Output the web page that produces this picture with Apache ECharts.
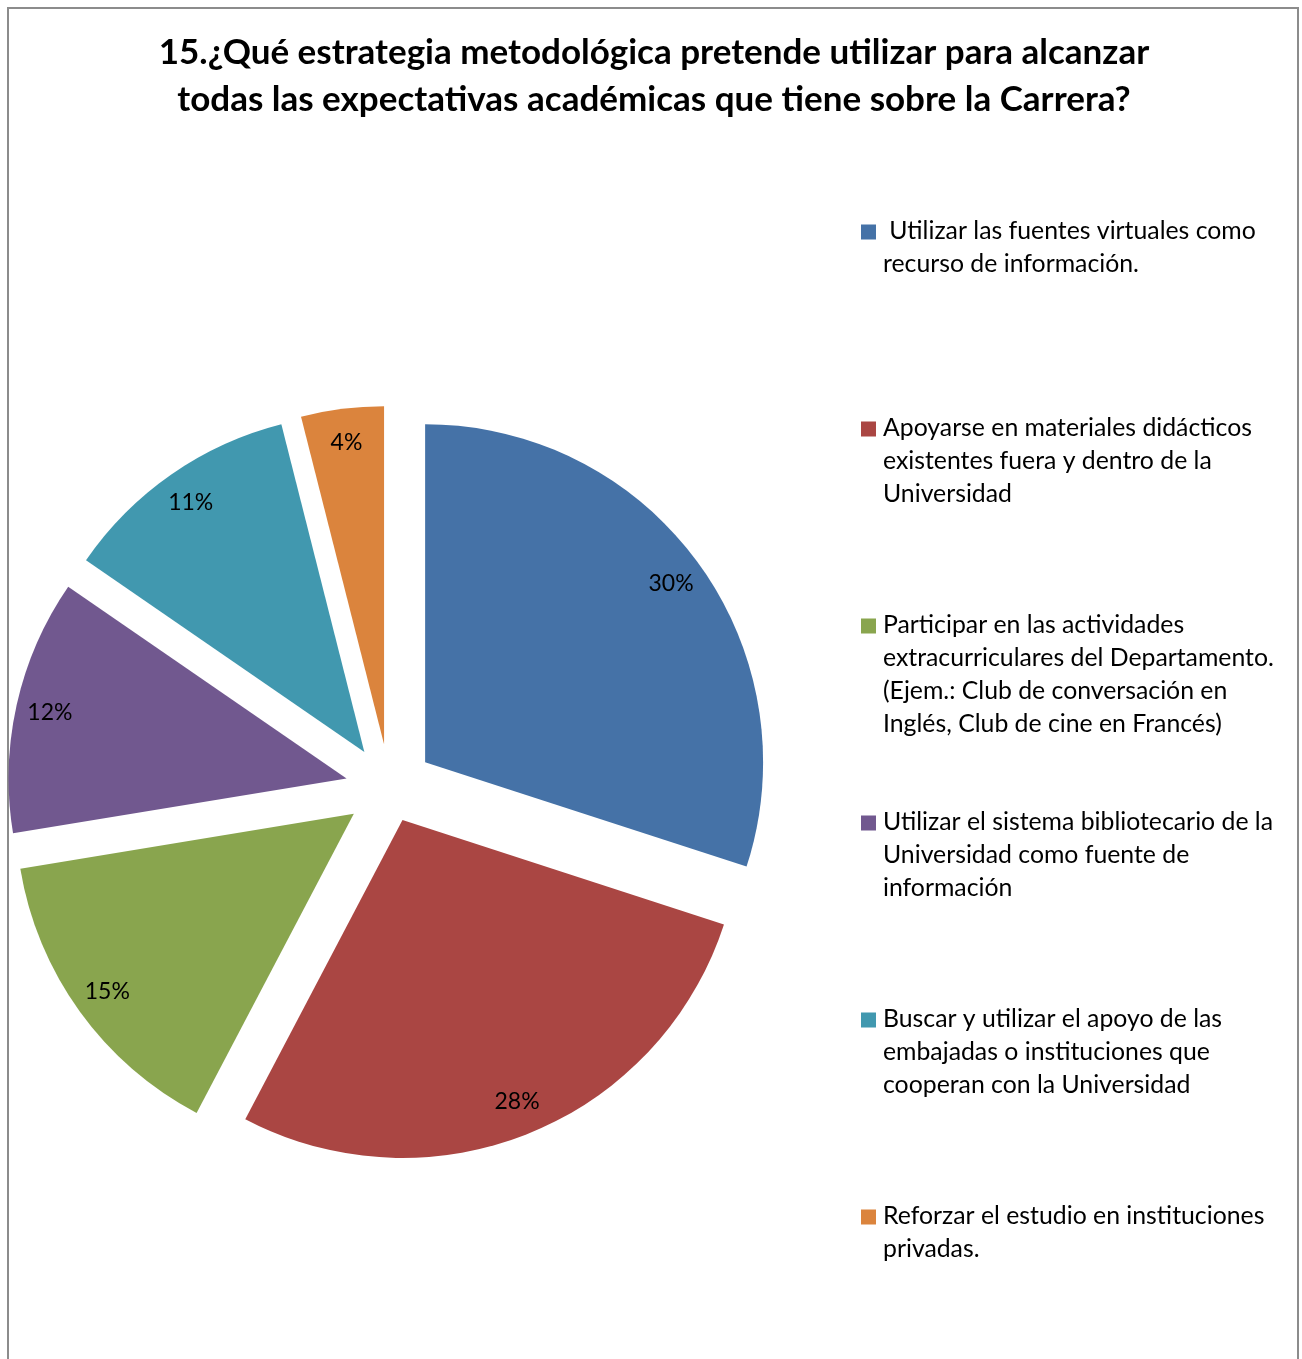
<!DOCTYPE html>
<html>
<head>
<meta charset="utf-8">
<script src="https://cdn.jsdelivr.net/npm/echarts@6/dist/echarts.min.js"></script>
<style>
html,body{margin:0;padding:0;background:#fff;}
#chart{width:1302px;height:1359px;}
</style>
</head>
<body>
<div id="chart"></div>
<script>
var titleText = '15.¿Qué estrategia metodológica pretende utilizar para alcanzar\ntodas las expectativas académicas que tiene sobre la Carrera?';
var categories = [
  ' Utilizar las fuentes virtuales como\nrecurso de información.',
  'Apoyarse en materiales didácticos\nexistentes fuera y dentro de la\nUniversidad',
  'Participar en las actividades\nextracurriculares del Departamento.\n(Ejem.: Club de conversación en\nInglés, Club de cine en Francés)',
  'Utilizar el sistema bibliotecario de la\nUniversidad como fuente de\ninformación',
  'Buscar y utilizar el apoyo de las\nembajadas o instituciones que\ncooperan con la Universidad',
  'Reforzar el estudio en instituciones\nprivadas.'
];
var values = [30, 27.7, 14.7, 12.2, 11.45, 3.95];
var colors = ['#4572A7', '#AA4643', '#89A54E', '#71588F', '#4198AF', '#DB843D'];

// layout config
var CENTER = [389.5, 788], R = 338, LABEL_R0 = 264;
var OFFSET_MAIN = 44, OFFSET_SMALL = 34.5, SMALL_IDX = 1;
var LINE = 33, MAXLINES = 4, BLOCK = LINE * MAXLINES;
var iconPath = 'path://M0,9.5H15V24.5H0Z M0,0L0.01,0 M17,' + BLOCK + 'L17.01,' + BLOCK;
var CLEAR = 'rgba(0,0,0,0)';

function sliceData(group) {
  return categories.map(function (c, i) {
    var mine = (group === 'small') === (i === SMALL_IDX);
    return { name: c, value: values[i], selected: true, itemStyle: { color: mine ? colors[i] : CLEAR } };
  });
}
function labelData(group) {
  return categories.map(function (c, i) {
    var mine = (group === 'small') === (i === SMALL_IDX);
    return { name: c, value: values[i], selected: true, label: { show: mine } };
  });
}
function pieBase(radius, offset) {
  return {
    type: 'pie', center: CENTER, radius: radius, startAngle: 90, clockwise: true,
    selectedMode: 'multiple', selectedOffset: offset, silent: true,
    emphasis: { disabled: true }, labelLine: { show: false }
  };
}
var pieLabel = {
  position: 'inside', rotate: 0,
  formatter: function (p) { return Math.round(p.percent) + '%'; },
  fontFamily: 'Lato', fontSize: 23, color: '#000'
};

var series = [];
[['main', OFFSET_MAIN], ['small', OFFSET_SMALL]].forEach(function (g) {
  var s = pieBase([0, R], g[1]);
  s.itemStyle = { borderWidth: 0 };
  s.select = { itemStyle: { borderWidth: 0 } };
  s.label = { show: false };
  s.data = sliceData(g[0]);
  series.push(s);
});
[['main', OFFSET_MAIN], ['small', OFFSET_SMALL]].forEach(function (g) {
  var s = pieBase([LABEL_R0, R], g[1]);
  s.itemStyle = { borderWidth: 0, color: CLEAR };
  s.select = { itemStyle: { borderWidth: 0, color: CLEAR } };
  s.label = Object.assign({ show: true }, pieLabel);
  s.data = labelData(g[0]);
  series.push(s);
});

var chart = echarts.init(document.getElementById('chart'));
chart.setOption({
  animation: false,
  backgroundColor: '#fff',
  title: {
    text: titleText,
    left: 654,
    textAlign: 'center',
    top: 29,
    padding: 0,
    textStyle: { fontFamily: 'Lato', fontWeight: 'bold', fontSize: 35, lineHeight: 47, color: '#000' }
  },
  graphic: [{
    type: 'rect', silent: true,
    shape: { x: 8, y: 8, width: 1290, height: 1400 },
    style: { fill: 'none', stroke: '#8c8c8c', lineWidth: 2 }
  }],
  legend: {
    orient: 'vertical',
    left: 861,
    top: 215,
    padding: 0,
    itemWidth: 17,
    itemHeight: BLOCK,
    itemGap: 197 - BLOCK,
    selectedMode: false,
    icon: iconPath,
    itemStyle: { borderWidth: 0 },
    data: categories.map(function (c, i) { return { name: c, itemStyle: { color: colors[i], borderWidth: 0 } }; }),
    formatter: function (name) {
      var n = name.split('\n').length;
      var pad = '';
      for (var k = n; k < MAXLINES; k++) pad += '\n ';
      return name + pad;
    },
    textStyle: { fontFamily: 'Lato', fontSize: 24.8, lineHeight: LINE, color: '#000' }
  },
  series: series
});
</script>
</body>
</html>
